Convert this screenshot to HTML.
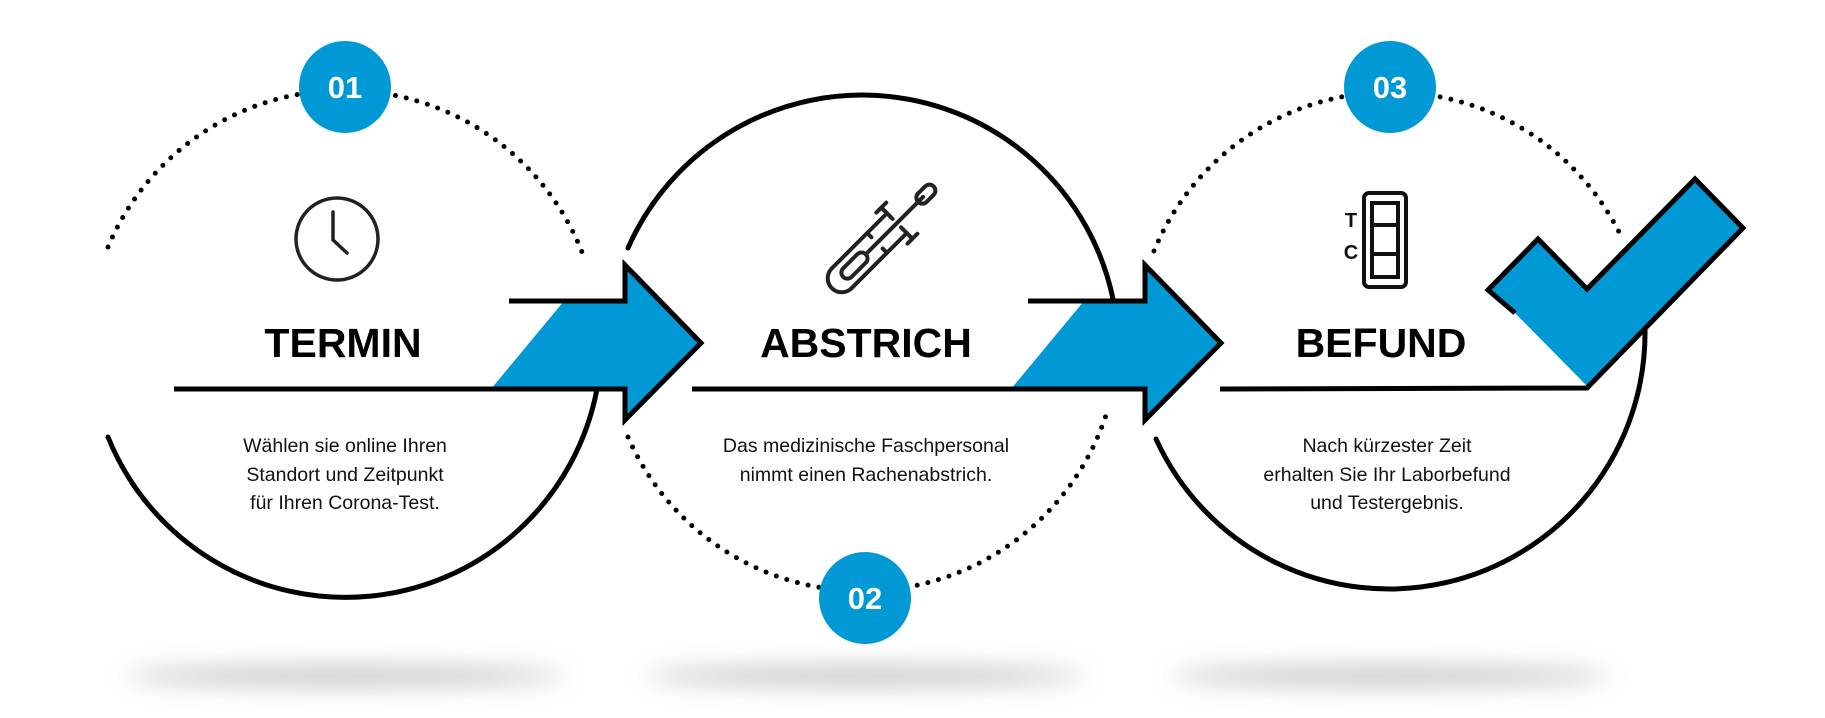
<!DOCTYPE html>
<html><head><meta charset="utf-8"><style>
html,body{margin:0;padding:0;background:#fff;}
svg{display:block;}
text{font-family:"Liberation Sans",sans-serif;}
</style></head><body>
<svg width="1825" height="718" viewBox="0 0 1825 718" xmlns="http://www.w3.org/2000/svg">
<defs>
<filter id="bl" x="-50%" y="-200%" width="200%" height="500%"><feGaussianBlur stdDeviation="12"/></filter>
</defs>
<g filter="url(#bl)" fill="#b5b5b5" opacity="0.85">
<ellipse cx="345" cy="676" rx="220" ry="9"/>
<ellipse cx="865" cy="676" rx="220" ry="9"/>
<ellipse cx="1390" cy="676" rx="220" ry="9"/>
</g>
<g fill="none" stroke="#000" stroke-width="5" stroke-linecap="round">
<path d="M108,247 A256,256 0 0 1 585,260" stroke-dasharray="0 11" stroke-width="5"/>
<path d="M108,437 A256,256 0 0 0 597,389"/>
<path d="M628,248 A256,256 0 0 1 1113,299"/>
<path d="M628,437 A256,256 0 0 0 1107,412" stroke-dasharray="0 11"/>
<path d="M1154,251 A256,256 0 0 1 1619,232" stroke-dasharray="0 11"/>
<path d="M1156,439 A256,256 0 0 0 1645,330"/>
</g>
<g stroke="#000" stroke-width="5" stroke-linejoin="miter">
<polygon points="564,301 625,301 625,265 701,343 625,420 625,389 491,389" fill="#0099d5" stroke="none"/>
<polyline points="509,301 625,301 625,265 701,343 625,420 625,389 174,389" fill="none"/>
<polygon points="1084,301 1145,301 1145,265 1221,343 1145,420 1145,389 1011,389" fill="#0099d5" stroke="none"/>
<polyline points="1028,301 1145,301 1145,265 1221,343 1145,420 1145,389 692,389" fill="none"/>
<polygon points="1488,290 1538,239 1587,289 1695,179 1743,228 1587,386 1515,313" fill="#0099d5" stroke="none"/>
<polyline points="1515,313 1488,290 1538,239 1587,289 1695,179 1743,228 1587,388 1220,389" fill="none"/>
</g>
<g fill="#0099d5">
<circle cx="345" cy="87" r="46"/>
<circle cx="865" cy="598" r="46"/>
<circle cx="1390" cy="87" r="46"/>
</g>
<g fill="#fff" font-weight="bold" font-size="31" text-anchor="middle">
<text x="345" y="98">01</text>
<text x="865" y="609">02</text>
<text x="1390" y="98">03</text>
</g>
<g font-weight="bold" font-size="41" text-anchor="middle" fill="#000">
<text x="343" y="357">TERMIN</text>
<text x="866" y="357">ABSTRICH</text>
<text x="1381" y="357">BEFUND</text>
</g>
<g font-size="19.5" text-anchor="middle" fill="#111">
<text x="345" y="452">Wählen sie online Ihren</text>
<text x="345" y="481">Standort und Zeitpunkt</text>
<text x="345" y="509">für Ihren Corona-Test.</text>
<text x="866" y="452">Das medizinische Faschpersonal</text>
<text x="866" y="481">nimmt einen Rachenabstrich.</text>
<text x="1387" y="452">Nach kürzester Zeit</text>
<text x="1387" y="481">erhalten Sie Ihr Laborbefund</text>
<text x="1387" y="509">und Testergebnis.</text>
</g>
<g fill="none" stroke="#222" stroke-width="3.5" stroke-linecap="round">
<circle cx="337" cy="239" r="41"/>
<polyline points="333,212 333,240 347,253"/>
</g>
<g fill="none" stroke="#222" stroke-width="4" stroke-linecap="round" transform="rotate(45 870 250)">
<path d="M856,212 L856,290 A14,14 0 0 0 884,290 L884,212"/>
<rect x="864" y="256" width="12" height="32" rx="6"/>
<line x1="870" y1="256" x2="870" y2="175"/>
<rect x="864" y="160" width="12" height="22" rx="6"/>
<line x1="848" y1="212" x2="864" y2="212"/>
<line x1="876" y1="212" x2="892" y2="212"/>
<line x1="848" y1="205" x2="848" y2="219"/>
<line x1="892" y1="205" x2="892" y2="219"/>
<line x1="856" y1="240" x2="862" y2="240"/>
<line x1="878" y1="240" x2="884" y2="240"/>
</g>
<g fill="none" stroke="#111" stroke-width="4">
<rect x="1364" y="193" width="42" height="94" rx="5"/>
<rect x="1372" y="203" width="26" height="74"/>
<line x1="1372" y1="225" x2="1398" y2="225"/>
<line x1="1372" y1="254" x2="1398" y2="254"/>
</g>
<g font-weight="bold" font-size="20" fill="#111" text-anchor="middle">
<text x="1351" y="227">T</text>
<text x="1351" y="259">C</text>
</g>
</svg>
</body></html>
